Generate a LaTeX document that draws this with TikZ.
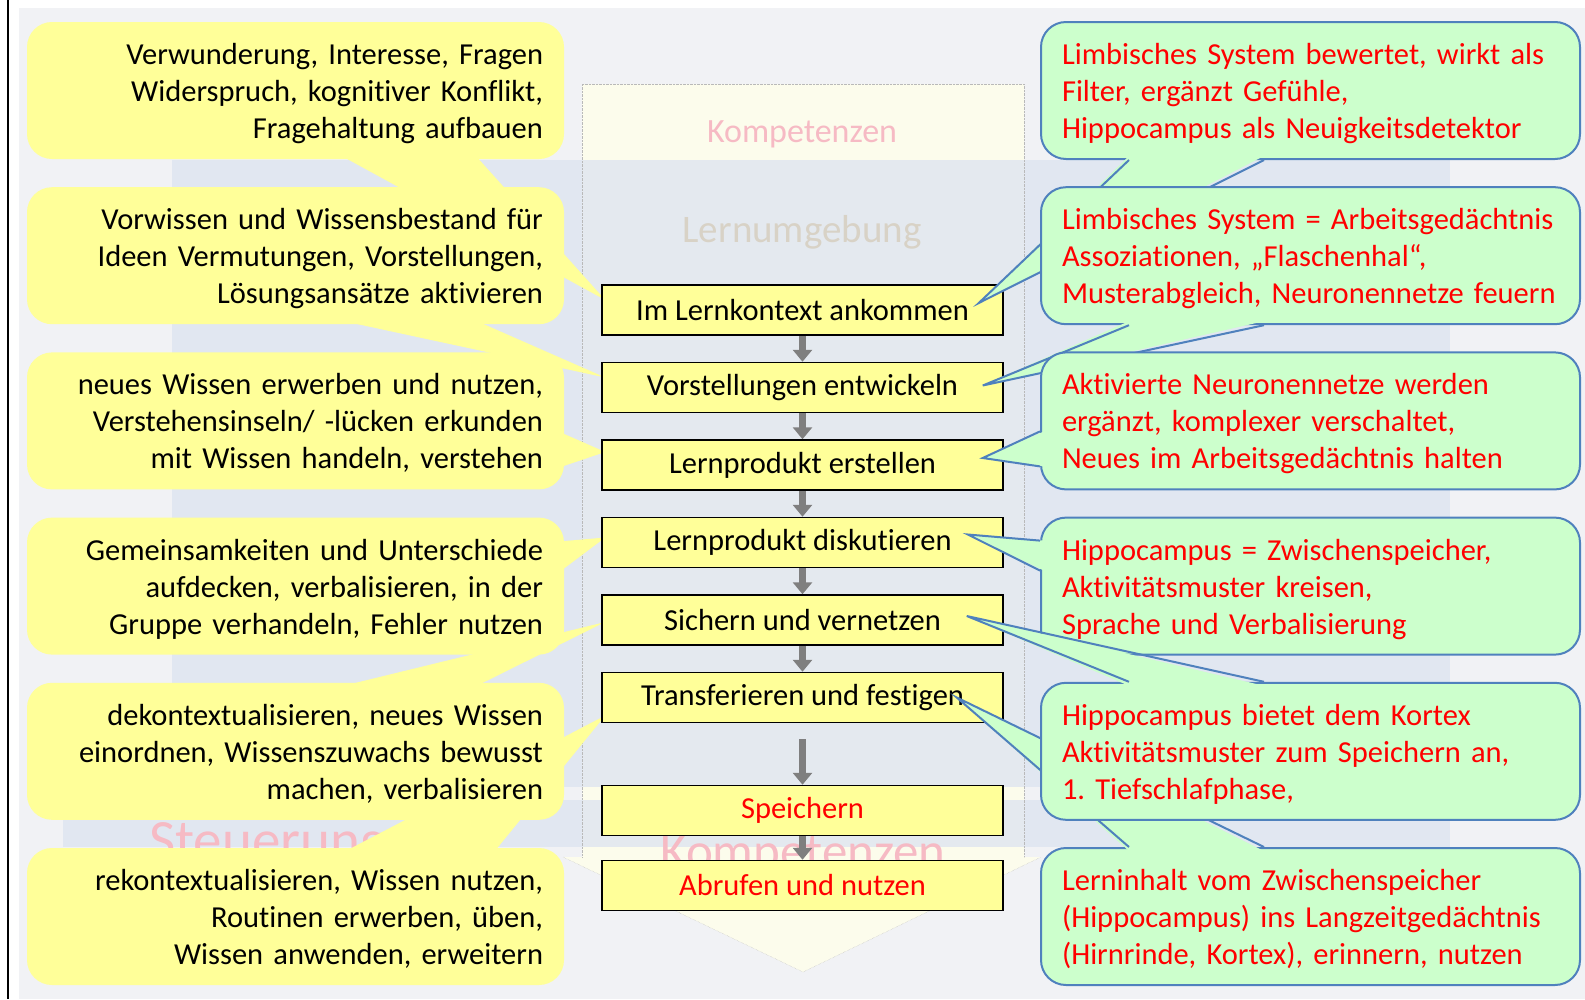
\documentclass[tikz,border=0pt]{standalone}
\usepackage{fontspec}
\setmainfont{Carlito}[Ligatures=NoCommon]
\usetikzlibrary{arrows.meta}
\usetikzlibrary{positioning}
\frenchspacing

\definecolor{boxyellow}{RGB}{255,255,153}
\definecolor{notegreen}{RGB}{204,255,204}
\definecolor{noteblue}{RGB}{79,129,189}
\definecolor{flowgray}{RGB}{127,127,127}
\definecolor{slidegray}{RGB}{241,242,245}
\definecolor{slideblue}{RGB}{222,229,240}
\definecolor{slidecream}{RGB}{252,252,236}
\definecolor{fadedpink}{RGB}{246,186,196}
\definecolor{fadedgrey}{RGB}{216,210,198}

\pgfdeclarelayer{back}
\pgfdeclarelayer{tails}
\pgfsetlayers{back,tails,main}

\newcommand{\notesize}{\fontsize{30.5}{37}\selectfont}

\tikzset{
  stepbox/.style={draw, line width=1.5pt, fill=boxyellow, minimum width=401pt,
    minimum height=50pt, inner sep=0pt, font=\notesize},
  notetext/.style={minimum height=137pt, font=\notesize, rounded corners=25pt,
    execute at begin node={\rule{0pt}{30pt}},
    execute at end node={\rule[-8pt]{0pt}{8pt}}},
  leftnote/.style={notetext, fill=boxyellow, text width=495pt, inner xsep=21pt,
    align=right},
  rightnote/.style={notetext, draw=noteblue, line width=2pt, fill=notegreen,
    text width=497pt, inner xsep=21pt, align=left, text=red},
  flow/.style={draw=flowgray, line width=7pt, -{Triangle[width=19pt,length=12pt]}},
  righttail/.style={draw=noteblue, line width=2pt},
}

\begin{document}
\begin{tikzpicture}[x=1pt, y=-1pt]
\useasboundingbox (0,0) rectangle (1585,999);

% faded slide underneath
\begin{pgfonlayer}{back}
  \fill[slidegray] (19,8) rectangle (1585,999);
  \fill[slidecream] (582,84) rectangle (1024,857) (563,857) -- (1041,857) -- (803,972) -- cycle;
  \fill[slideblue, opacity=0.8] (172,160) rectangle (1450,787);
  \fill[slideblue, opacity=0.8] (63,800) rectangle (1450,847);
  \draw[gray!55, densely dotted] (582,857) -- (582,84) -- (1024,84) -- (1024,857);
  \draw[gray!55, densely dotted] (563,857) -- (803,972) -- (1041,857);
  \node[anchor=base, text=fadedpink, font=\fontsize{34}{40}\selectfont] (faded-top) at (802,142) {Kompetenzen};
  \node[anchor=base, text=fadedgrey, font=\fontsize{39}{45}\selectfont] (faded-mid) at (802,242) {Lernumgebung};
  \node[anchor=base, text=fadedpink, font=\fontsize{51}{60}\selectfont] (faded-low) at (803,868) {Kompetenzen};
  \node[anchor=base west, inner sep=0pt, text=fadedpink, font=\fontsize{57}{66}\selectfont] (faded-left) at (149,859) {Steuerung};
\end{pgfonlayer}
\draw[line width=2.5pt] (8,0) -- (8,999);

% the steps
\node[stepbox] (step-1) at (802.5,310) {Im Lernkontext ankommen};
\node[stepbox, below=26pt of step-1] (step-2) {Vorstellungen entwickeln};
\node[stepbox, below=26pt of step-2] (step-3) {Lernprodukt erstellen};
\node[stepbox, below=26pt of step-3] (step-4) {Lernprodukt diskutieren};
\node[stepbox, below=26pt of step-4] (step-5) {Sichern und vernetzen};
\node[stepbox, below=26pt of step-5] (step-6) {Transferieren und festigen};
\node[stepbox, below=61.5pt of step-6, text=red] (step-7) {Speichern};
\node[stepbox, below=23.5pt of step-7, text=red] (step-8) {Abrufen und nutzen};

\foreach \a/\b in {1/2,2/3,3/4,4/5,5/6,7/8}
  \draw[flow] (step-\a) -- (step-\b);
\draw[flow] ([yshift=-16pt]step-6.south) -- (step-7);

% where the tails point
\coordinate (tip-l1) at ([xshift=4pt,yshift=10pt]step-1.west);
\coordinate (tip-l2) at ([xshift=4pt,yshift=10pt]step-2.west);
\coordinate (tip-l3) at ([xshift=4pt,yshift=13pt]step-3.west);
\coordinate (tip-l4) at ([xshift=4pt,yshift=5pt]step-4.west);
\coordinate (tip-l5) at ([xshift=4pt,yshift=-2pt]step-5.west);
\coordinate (tip-l6) at ([xshift=4pt,yshift=-18pt]step-6.west);
\coordinate (tip-r1) at ([xshift=-25pt,yshift=7pt]step-1.east);
\coordinate (tip-r2) at ([xshift=-21pt,yshift=2pt]step-2.east);
\coordinate (tip-r3) at ([xshift=-21pt,yshift=7pt]step-3.east);
\coordinate (tip-r4) at ([xshift=-36pt,yshift=8pt]step-4.east);
\coordinate (tip-r5) at ([xshift=-37pt,yshift=4pt]step-5.east);
\coordinate (tip-r6) at ([xshift=-47pt]step-6.east);

% left notes
\node[leftnote] (note-l1) at (295.5,90.5) {Verwunderung, Interesse, Fragen\\Widerspruch, kognitiver Konflikt,\\Fragehaltung aufbauen};
\node[leftnote] (note-l2) at (295.5,255.7) {Vorwissen und Wissensbestand für\\Ideen Vermutungen, Vorstellungen,\\Lösungsansätze aktivieren};
\node[leftnote] (note-l3) at (295.5,420.9) {neues Wissen erwerben und nutzen,\\Verstehensinseln/ -lücken erkunden\\mit Wissen handeln, verstehen};
\node[leftnote] (note-l4) at (295.5,586.1) {Gemeinsamkeiten und Unterschiede\\aufdecken, verbalisieren, in der\\Gruppe verhandeln, Fehler nutzen};
\node[leftnote] (note-l5) at (295.5,751.3) {dekontextualisieren, neues Wissen\\einordnen, Wissenszuwachs bewusst\\machen, verbalisieren};
\node[leftnote] (note-l6) at (295.5,916.5) {rekontextualisieren, Wissen nutzen,\\Routinen erwerben, üben,\\Wissen anwenden, erweitern};

\begin{pgfonlayer}{tails}
  \fill[boxyellow] ([xshift=-224pt,yshift=4pt]note-l1.south east) -- (tip-l1) -- ([xshift=-89pt,yshift=4pt]note-l1.south east) -- cycle;
  \fill[boxyellow] ([xshift=-224pt,yshift=4pt]note-l2.south east) -- (tip-l2) -- ([xshift=-89pt,yshift=4pt]note-l2.south east) -- cycle;
  \fill[boxyellow] ([xshift=-4pt,yshift=-80pt]note-l3.north east) -- (tip-l3) -- ([xshift=-4pt,yshift=-115pt]note-l3.north east) -- cycle;
  \fill[boxyellow] ([xshift=-4pt,yshift=-24pt]note-l4.north east) -- (tip-l4) -- ([xshift=-4pt,yshift=-54pt]note-l4.north east) -- cycle;
  \fill[boxyellow] ([xshift=-224pt,yshift=-4pt]note-l5.north east) -- (tip-l5) -- ([xshift=-89pt,yshift=-4pt]note-l5.north east) -- cycle;
  \fill[boxyellow] ([xshift=-220pt,yshift=-4pt]note-l6.north east) -- (tip-l6) -- ([xshift=-70pt,yshift=-4pt]note-l6.north east) -- cycle;
\end{pgfonlayer}

% right notes, each tail drawn after its note
\node[rightnote] (note-r1) at (1310.5,90.5) {Limbisches System bewertet, wirkt als\\Filter, ergänzt Gefühle,\\Hippocampus als Neuigkeitsdetektor};
\fill[notegreen] ([xshift=89pt,yshift=4pt]note-r1.south west) -- (tip-r1) -- ([xshift=224pt,yshift=4pt]note-r1.south west) -- cycle;
\draw[righttail] ([xshift=89pt]note-r1.south west) -- (tip-r1) -- ([xshift=224pt]note-r1.south west);

\node[rightnote] (note-r2) at (1310.5,255.7) {Limbisches System = Arbeitsgedächtnis\\Assoziationen, „Flaschenhal“,\\Musterabgleich, Neuronennetze feuern};
\fill[notegreen] ([xshift=89pt,yshift=4pt]note-r2.south west) -- (tip-r2) -- ([xshift=224pt,yshift=4pt]note-r2.south west) -- cycle;
\draw[righttail] ([xshift=89pt]note-r2.south west) -- (tip-r2) -- ([xshift=224pt]note-r2.south west);

\node[rightnote] (note-r3) at (1310.5,420.9) {Aktivierte Neuronennetze werden\\ergänzt, komplexer verschaltet,\\Neues im Arbeitsgedächtnis halten};
\fill[notegreen] ([xshift=4pt,yshift=-80pt]note-r3.north west) -- (tip-r3) -- ([xshift=4pt,yshift=-115pt]note-r3.north west) -- cycle;
\draw[righttail] ([yshift=-80pt]note-r3.north west) -- (tip-r3) -- ([yshift=-115pt]note-r3.north west);

\node[rightnote] (note-r4) at (1310.5,586.1) {Hippocampus = Zwischenspeicher,\\Aktivitätsmuster kreisen,\\Sprache und Verbalisierung};
\fill[notegreen] ([xshift=4pt,yshift=-24pt]note-r4.north west) -- (tip-r4) -- ([xshift=4pt,yshift=-54pt]note-r4.north west) -- cycle;
\draw[righttail] ([yshift=-24pt]note-r4.north west) -- (tip-r4) -- ([yshift=-54pt]note-r4.north west);

\node[rightnote] (note-r6) at (1310.5,916.5) {Lerninhalt vom Zwischenspeicher\\(Hippocampus) ins Langzeitgedächtnis\\(Hirnrinde, Kortex), erinnern, nutzen};
\fill[notegreen] ([xshift=89pt,yshift=-4pt]note-r6.north west) -- (tip-r6) -- ([xshift=224pt,yshift=-4pt]note-r6.north west) -- cycle;
\draw[righttail] ([xshift=89pt]note-r6.north west) -- (tip-r6) -- ([xshift=224pt]note-r6.north west);

\node[rightnote] (note-r5) at (1310.5,751.3) {Hippocampus bietet dem Kortex\\Aktivitätsmuster zum Speichern an,\\1. Tiefschlafphase,};
\fill[notegreen] ([xshift=89pt,yshift=-4pt]note-r5.north west) -- (tip-r5) -- ([xshift=224pt,yshift=-4pt]note-r5.north west) -- cycle;
\draw[righttail] ([xshift=89pt]note-r5.north west) -- (tip-r5) -- ([xshift=224pt]note-r5.north west);
\end{tikzpicture}
\end{document}
